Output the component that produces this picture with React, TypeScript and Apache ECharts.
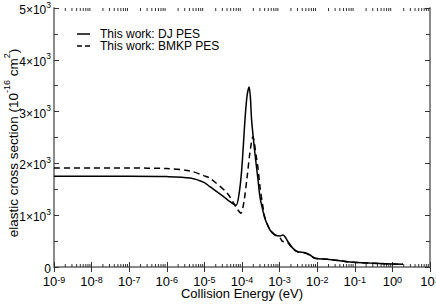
import React, { useEffect, useRef } from "react";
import * as echarts from "echarts";

// Energies (eV) and elastic cross sections (1e-16 cm^2)
const djEnergy = [1e-9, 1e-8, 1e-7, 1e-6, 4.2e-6, 1e-5, 1.4e-5, 3.1e-5, 4.8e-5, 6.9e-5, 8.3e-5, 9.8e-5, 1.2e-4, 1.36e-4, 1.55e-4, 1.68e-4, 1.8e-4, 2.2e-4, 2.67e-4, 3.01e-4, 3.62e-4, 4.09e-4, 5.56e-4, 7.55e-4, 1.03e-3, 1.23e-3, 1.39e-3, 1.67e-3, 2.27e-3, 3.08e-3, 4.74e-3, 6.44e-3, 8.74e-3, 1.82e-2, 4.04e-2, 7.45e-2, 0.254, 1.91];
const djSigma = [1750, 1750, 1750, 1745, 1718, 1630, 1550, 1370, 1260, 1190, 1400, 1870, 2840, 3300, 3475, 3250, 2840, 2200, 1680, 1350, 1080, 930, 714, 618, 598, 620, 585, 490, 360, 295, 276, 232, 168, 149, 122, 95, 75, 52];

const bmkpEnergy = [1e-9, 1e-8, 1e-7, 1e-6, 4.2e-6, 1e-5, 1.4e-5, 4.0e-5, 5.8e-5, 7.6e-5, 9.3e-5, 1.12e-4, 1.35e-4, 1.62e-4, 1.95e-4, 2.4e-4, 2.67e-4, 3.01e-4, 3.62e-4, 4.09e-4, 5.56e-4, 7.55e-4, 1.03e-3, 1.23e-3, 1.39e-3, 1.67e-3, 2.27e-3, 3.08e-3, 4.74e-3, 6.44e-3, 8.74e-3, 1.82e-2, 4.04e-2, 7.45e-2, 0.254, 1.91];
const bmkpSigma = [1910, 1910, 1910, 1900, 1853, 1760, 1715, 1430, 1250, 1110, 1040, 1250, 1700, 2200, 2515, 2130, 1900, 1550, 1150, 950, 720, 620, 560, 490, 500, 470, 345, 290, 270, 228, 170, 150, 120, 95, 75, 52];

const xExponents = [-9, -8, -7, -6, -5, -4, -3, -2, -1, 0, 1];
const minorMultipliers = [2, 3, 4, 5, 6, 7, 8, 9];

const FONT = "Liberation Sans, Arial, sans-serif";

export default function App() {
  const ref = useRef<HTMLDivElement>(null);
  useEffect(() => {
    if (!ref.current) return;
    const chart = echarts.init(ref.current, null, { renderer: "svg" });

    const minorTicks: number[][] = [];
    xExponents.slice(0, -1).forEach((e) => {
      minorMultipliers.forEach((m) => minorTicks.push([m * Math.pow(10, e)]));
    });

    const frame = "#8a8a8a";
    const tickColor = "#333";

    const supRich = {
      b: { fontSize: 13, fontFamily: FONT, color: "#000", lineHeight: 13, verticalAlign: "bottom" },
      s: { fontSize: 9, fontFamily: FONT, color: "#000", lineHeight: 13, verticalAlign: "top" },
    };
    const supRichY = {
      b: { fontSize: 12, fontFamily: FONT, color: "#000", lineHeight: 16, verticalAlign: "bottom" },
      s: { fontSize: 8.5, fontFamily: FONT, color: "#000", lineHeight: 16, verticalAlign: "top" },
    };

    const renderTick = (top: boolean) => (params: any, api: any) => {
      const p = api.coord([api.value(0), top ? 5000 : 0]);
      const len = 3;
      return {
        type: "line",
        shape: { x1: p[0], y1: p[1], x2: p[0], y2: top ? p[1] + len : p[1] - len },
        style: { stroke: tickColor, lineWidth: 1 },
      };
    };

    chart.setOption({
      animation: false,
      textStyle: { fontFamily: FONT },
      grid: { left: 54, right: 6, top: 8, bottom: 37, containLabel: false, outerBoundsMode: "none" },
      legend: {
        left: 77,
        top: 28,
        padding: 0,
        orient: "vertical",
        itemGap: 0,
        itemWidth: 13,
        itemHeight: 8,
        data: [
          { name: "This work: DJ PES", icon: "path://M0,0h13v1.5h-13z" },
          { name: "This work: BMKP PES", icon: "path://M0,0h5v1.5h-5zM8,0h5v1.5h-5z" },
        ],
        itemStyle: { color: "#000" },
        textStyle: { fontSize: 12, fontFamily: FONT, color: "#000", lineHeight: 10, padding: [0, 0, 0, 5] },
      },
      xAxis: [
        {
          type: "log",
          logBase: 10,
          min: 1e-9,
          max: 10,
          interval: 1,
          position: "bottom",
          name: "Collision Energy (eV)",
          nameLocation: "middle",
          nameGap: 20,
          nameMoveOverlap: false,
          nameTextStyle: { fontSize: 13, fontFamily: FONT, color: "#000" },
          axisLine: { show: true, lineStyle: { color: frame, width: 2 } },
          axisTick: { show: true, inside: true, length: 5, lineStyle: { color: tickColor } },
          splitLine: { show: false },
          axisLabel: {
            margin: 8,
            formatter: (v: number) => `{b|10}{s|${Math.round(Math.log10(v))}}`,
            rich: supRich,
          },
        },
        {
          type: "log",
          logBase: 10,
          min: 1e-9,
          max: 10,
          interval: 1,
          position: "top",
          axisLine: { show: true, lineStyle: { color: frame, width: 2 } },
          axisTick: { show: true, inside: true, length: 5, lineStyle: { color: tickColor } },
          splitLine: { show: false },
          axisLabel: { show: false },
        },
      ],
      yAxis: [
        {
          type: "value",
          min: 0,
          max: 5000,
          interval: 1000,
          position: "left",
          name: "{t|elastic cross section (10}{s|-16}{t| cm}{s|2}{t|)}",
          nameLocation: "middle",
          nameGap: 34,
          nameMoveOverlap: false,
          nameTextStyle: {
            padding: [0, 11, 0, 0],
            rich: {
              t: { fontSize: 13.5, fontFamily: FONT, color: "#000", lineHeight: 18, verticalAlign: "bottom" },
              s: { fontSize: 9, fontFamily: FONT, color: "#000", lineHeight: 18, verticalAlign: "top" },
            },
          },
          axisLine: { show: true, lineStyle: { color: frame, width: 2 } },
          axisTick: { show: true, inside: true, length: 5, lineStyle: { color: tickColor } },
          minorTick: { show: true, splitNumber: 2, length: 4, lineStyle: { color: tickColor } },
          splitLine: { show: false },
          axisLabel: {
            margin: 3,
            formatter: (v: number) => (v === 0 ? "{b|0}" : `{b|${v / 1000}×10}{s|3}`),
            rich: supRichY,
          },
        },
        {
          type: "value",
          min: 0,
          max: 5000,
          interval: 1000,
          position: "right",
          axisLine: { show: true, lineStyle: { color: frame, width: 2 } },
          axisTick: { show: true, inside: true, length: 5, lineStyle: { color: tickColor } },
          minorTick: { show: true, splitNumber: 2, length: 4, lineStyle: { color: tickColor } },
          splitLine: { show: false },
          axisLabel: { show: false },
        },
      ],
      series: [
        {
          name: "This work: DJ PES",
          type: "line",
          data: djEnergy.map((e, i) => [e, djSigma[i]]),
          showSymbol: false,
          symbol: "none",
          smooth: 0.3,
          lineStyle: { color: "#000", width: 1.5, type: "solid" },
          itemStyle: { color: "#000" },
        },
        {
          name: "This work: BMKP PES",
          type: "line",
          data: bmkpEnergy.map((e, i) => [e, bmkpSigma[i]]),
          showSymbol: false,
          symbol: "none",
          smooth: 0.3,
          lineStyle: { color: "#000", width: 1.5, type: [6, 4] },
          itemStyle: { color: "#000" },
        },
        {
          name: "minorBottom",
          type: "custom",
          data: minorTicks,
          renderItem: renderTick(false),
          clip: false,
          silent: true,
        },
        {
          name: "minorTop",
          type: "custom",
          data: minorTicks,
          renderItem: renderTick(true),
          clip: false,
          silent: true,
        },
      ],
    });
    return () => chart.dispose();
  }, []);
  return <div ref={ref} style={{ width: 436, height: 304, position: "absolute", left: 0, top: 0 }} />;
}
